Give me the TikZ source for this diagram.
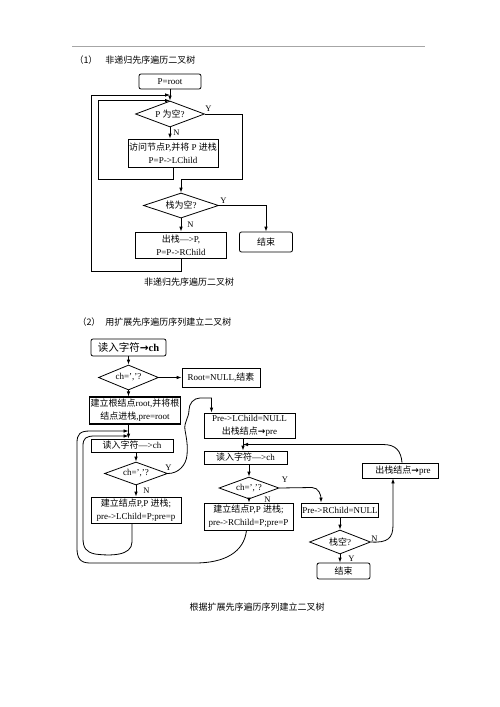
\documentclass[tikz,border=0pt]{standalone}
\usepackage{fontspec}
\setmainfont{Liberation Serif}
\newfontfamily\cjk{Noto Sans CJK SC}
\newfontfamily\sym{DejaVu Sans}
\newcommand{\zh}[1]{{\cjk #1}}
\newcommand{\toarr}{{\sym\bfseries →}}
\usetikzlibrary{arrows.meta,shapes,calc,positioning}

\begin{document}
\begin{tikzpicture}[x=1pt, y=-1pt, >={Latex[length=5pt,width=3.6pt]}, line width=0.8pt,
  box/.style={draw, rectangle, inner sep=1pt, align=center, font=\fontsize{9}{13}\selectfont},
  rbox/.style={box, rounded corners=2pt},
  dia/.style={draw, diamond, inner sep=0pt},
  yn/.style={font=\fontsize{8.5}{10}\selectfont, inner sep=0pt},
  txt/.style={font=\fontsize{9}{11}\selectfont, inner sep=0pt}]
\useasboundingbox (0,0) rectangle (500,707);
\draw[gray!70, line width=0.8pt] (72,46) -- (425,46);

% (1)
\node[txt] (n1) at (86,60) {\zh{（1）}};
\node[txt, anchor=west] (h1) at (105,60) {\zh{非递归先序遍历二叉树}};
\node[rbox, minimum width=62pt, minimum height=15pt] (root) at (170,81.5) {P=root};
\node[dia, minimum width=69pt, minimum height=26pt, label={[txt]center:{P \zh{为空}?}}] (d1) at (170,114) {};
\node[box, minimum width=90pt, minimum height=28pt] (visit) at (173,153) {\zh{访问节点}P,\zh{并将} P \zh{进栈}\\P=P->LChild};
\node[dia, minimum width=75pt, minimum height=25pt, label={[txt]center:{\zh{栈为空}?}}] (d2) at (181,205.5) {};
\node[box, minimum width=91pt, minimum height=26pt] (pop) at (181,245) {\zh{出栈}—>P,\\P=P->RChild};
\node[rbox, minimum width=53pt, minimum height=20pt] (end1) at (266,242) {\zh{结束}};
\node[txt] (cap1) at (189,282) {\zh{非递归先序遍历二叉树}};
\coordinate (m1) at (170,95);

\path[->] (root) edge (d1)
  (d1.south) edge node[yn, midway, right=3pt] {N} (d1.south |- visit.north)
  (d2.south) edge node[yn, midway, right=6pt] {N} (d2.south |- pop.north);
\draw[->] (visit.south) |- (98,179) |- (d1.north);
\draw[->] (pop.south) |- (91,271) |- (m1);
\draw[->] (d1.east) node[yn, above right=2pt and 0pt] {Y} -| (242,179) -| (d2.north);
\draw[->] (d2.east) node[yn, above right=2pt and 1pt] {Y} -| (end1.north);

% (2)
\node[txt] (n2) at (89,322) {\zh{（2）}};
\node[txt, anchor=west] (h2) at (105,322) {\zh{用扩展先序遍历序列建立二叉树}};
\node[rbox, minimum width=75pt, minimum height=17pt, font=\fontsize{10.5}{12}\selectfont] (rd0) at (128.5,347.5) {\zh{读入字符}\toarr\textbf{ch}};
\node[dia, minimum width=60pt, minimum height=25pt, label={[txt]center:{ch=','?}}] (c0) at (128.5,377.5) {};
\node[box, minimum width=78pt, minimum height=19pt] (rnull) at (221,377.5) {Root=NULL,\zh{结素}};
\node[box, line width=1.1pt, minimum width=90pt, minimum height=27pt] (mkroot) at (135,410.5) {\zh{建立根结点}root,\zh{并将根}\\\zh{结点进栈},pre=root};
\node[box, minimum width=82pt, minimum height=13pt] (rd1) at (132,445.5) {\zh{读入字符}—>ch};
\node[dia, minimum width=63pt, minimum height=23pt, label={[txt]center:{ch=','?}}] (c1) at (136,473.5) {};
\node[box, minimum width=90pt, minimum height=26pt] (mk1) at (136,510) {\zh{建立结点}P,P \zh{进栈};\\pre->LChild=P;pre=p};
\node[box, minimum width=91pt, minimum height=25pt] (lnull) at (249.5,425.5) {Pre->LChild=NULL\\\zh{出栈结点}\toarr pre};
\node[box, minimum width=83pt, minimum height=13pt] (rd2) at (245.5,457.5) {\zh{读入字符}—>ch};
\node[dia, minimum width=60pt, minimum height=22pt, label={[txt]center:{ch=','?}}] (c2) at (249,488) {};
\node[box, minimum width=89pt, minimum height=27pt] (mk2) at (248.5,516.5) {\zh{建立结点}P,P \zh{进栈};\\pre->RChild=P;pre=P};
\node[box, minimum width=77pt, minimum height=14pt] (rnull2) at (340,510) {Pre->RChild=NULL};
\node[dia, minimum width=61pt, minimum height=24pt, label={[txt]center:{\zh{栈空}?}}] (c3) at (340,542) {};
\node[rbox, minimum width=53pt, minimum height=16pt] (end2) at (343.5,571) {\zh{结束}};
\node[box, minimum width=76pt, minimum height=15pt] (popre) at (400,470.5) {\hspace{6pt}\zh{出栈结点}\toarr pre};
\node[txt] (cap2) at (257,607) {\zh{根据扩展先序遍历序列建立二叉树}};
\coordinate (j1) at (128.5,431);
\coordinate (j2) at (128.5,436);
\coordinate (j3) at (243,444.5);

\path[->] (rd0.south) edge (c0.north)
  (c0.east) edge (rnull.west)
  (c0.south) edge (c0.south |- mkroot.north)
  (c0.south |- mkroot.south) edge (c0.south |- rd1.north)
  (c1.north |- rd1.south) edge (c1.north)
  (c1.south) edge node[yn, midway, right=7pt] {N} (c1.south |- mk1.north)
  (lnull.south -| j3) edge (rd2.north -| j3)
  (c2.north |- rd2.south) edge (c2.north)
  (c2.south) edge node[yn, pos=0, right=15pt] {N} (c2.south |- mk2.north)
  (rnull2.south) edge (c3.north)
  (c3.south) edge node[yn, midway, right=8pt] {Y} (c3.south |- end2.north);
\draw[->] (c1.east) node[yn, above left=3pt and -4pt] {Y} to[out=0,in=-95] (187,455) to[out=85,in=-80] (185,430)
  to[out=100,in=-90] (189,410) to[out=90,in=180] (200,398) -| ([xshift=-38pt]lnull.north);
\draw[->] (c2.east) node[yn, above right=5pt and 2pt] {Y} -- (312,487.5) to[out=0,in=90] ([xshift=-19pt]rnull2.north);
\draw[->] (c3.east) node[yn, above right=0pt] {N} .. controls (388,543) and (393,538) .. (393,525) -- ([xshift=-7pt]popre.south);
\draw[->] ([xshift=2pt]popre.north) .. controls (401,451) and (396,444.5) .. (383,444.5) -- (j3);
% loops back to read ch
\draw[->] ([xshift=-2pt]mk2.south) .. controls (244,552) and (225,563) .. (195,563) -- (90,563)
  .. controls (80,563) and (77,558) .. (77,548) -- (77,443) .. controls (77,434) and (80,431) .. (90,431) -- (j1);
\draw[->] ([xshift=-4pt]mk1.south) -- (132,542) .. controls (132,556) and (110,556) .. (95,554)
  .. controls (86,552) and (83,548) .. (83,538) -- (83,446) .. controls (83,438) and (86,436) .. (95,436) -- (j2);
\end{tikzpicture}
\end{document}
